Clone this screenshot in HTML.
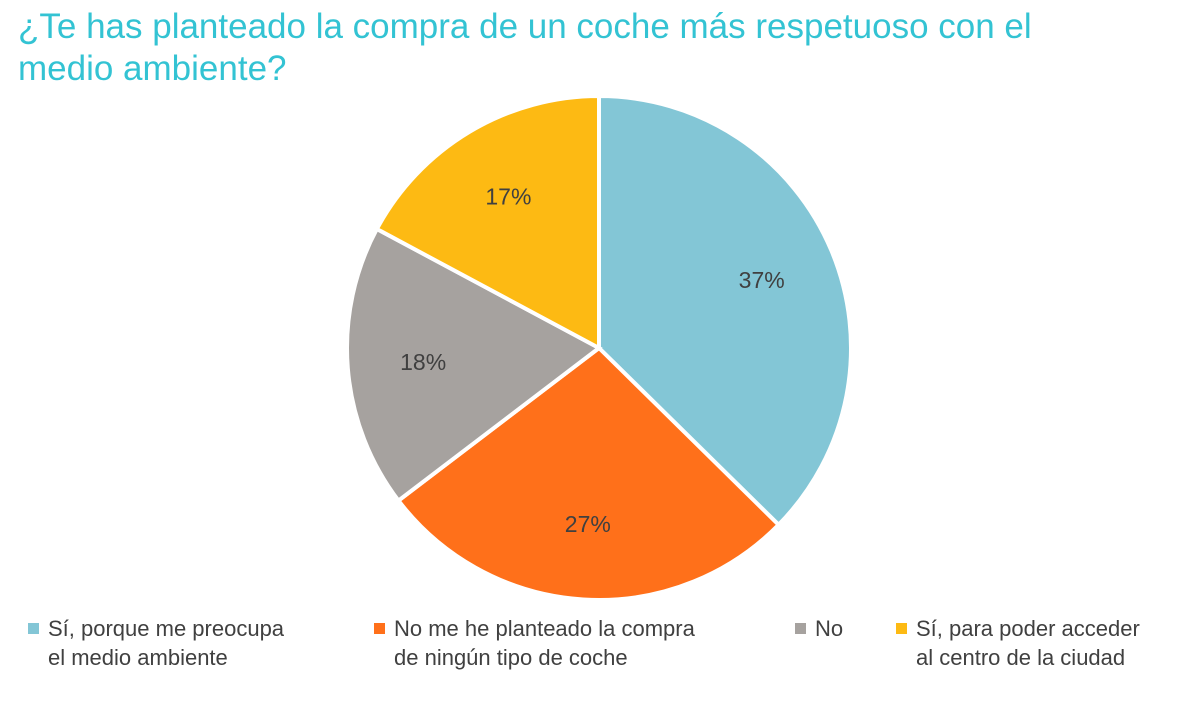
<!DOCTYPE html>
<html><head><meta charset="utf-8"><style>
body{margin:0;width:1191px;height:701px;background:#fff;overflow:hidden;font-family:"Liberation Sans",sans-serif;position:relative}
#title{position:absolute;left:18px;top:6px;font-size:35px;line-height:42px;color:#33C3D3;margin:0;font-weight:normal}
.leg{position:absolute;top:614px;font-size:22px;line-height:29px;color:#404040}
.sw{position:absolute;left:-20px;top:9px;width:11px;height:11px}
</style></head><body>
<h1 id="title">¿Te has planteado la compra de un coche más respetuoso con el<br>medio ambiente?</h1>
<svg id="pie" width="1191" height="701" style="position:absolute;left:0;top:0"></svg>
<div class="leg" style="left:48px"><span class="sw" style="background:#83C6D6"></span>Sí, porque me preocupa<br>el medio ambiente</div>
<div class="leg" style="left:394px"><span class="sw" style="background:#FF701A"></span>No me he planteado la compra<br>de ningún tipo de coche</div>
<div class="leg" style="left:815px"><span class="sw" style="background:#A6A29F"></span>No</div>
<div class="leg" style="left:916px"><span class="sw" style="background:#FDBA13"></span>Sí, para poder acceder<br>al centro de la ciudad</div>
<script>
const categories=["Sí, porque me preocupa el medio ambiente","No me he planteado la compra de ningún tipo de coche","No","Sí, para poder acceder al centro de la ciudad"];
const values=[37,27,18,17];
const labels=["37%","27%","18%","17%"];
const colors=["#83C6D6","#FF701A","#A6A29F","#FDBA13"];
const svg=document.getElementById('pie');
const cx=599,cy=348,r=252,NS="http://www.w3.org/2000/svg";
const total=values.reduce((a,b)=>a+b,0);
function pt(a,rad){return [cx+rad*Math.sin(a),cy-rad*Math.cos(a)];}
let acc=0;
values.forEach((v,i)=>{
  const a0=acc/total*2*Math.PI; acc+=v; const a1=acc/total*2*Math.PI;
  const p0=pt(a0,r),p1=pt(a1,r);
  const path=document.createElementNS(NS,'path');
  path.setAttribute('d',`M${cx},${cy}L${p0[0]},${p0[1]}A${r},${r} 0 ${a1-a0>Math.PI?1:0} 1 ${p1[0]},${p1[1]}Z`);
  path.setAttribute('fill',colors[i]);path.setAttribute('stroke','#fff');path.setAttribute('stroke-width','4');
  
  
  svg.appendChild(path);
  const m=(a0+a1)/2,lp=pt(m,r*0.7);
  const t=document.createElementNS(NS,'text');
  t.setAttribute('x',lp[0]);t.setAttribute('y',lp[1]+8);t.setAttribute('text-anchor','middle');
  t.setAttribute('font-size','23');t.setAttribute('fill','#404040');t.setAttribute('font-family','Liberation Sans, sans-serif');
  t.textContent=labels[i];
  
  
  svg.appendChild(t);
});
</script>
</body></html>
